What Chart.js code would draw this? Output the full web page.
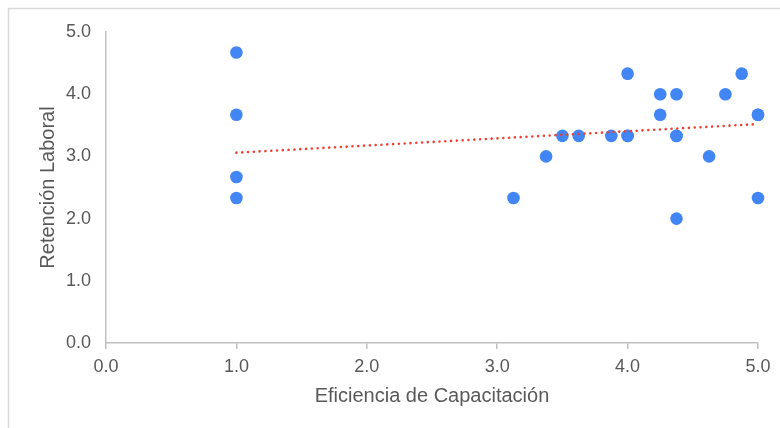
<!DOCTYPE html>
<html>
<head>
<meta charset="utf-8">
<script src="https://cdn.jsdelivr.net/npm/chart.js@4.4.1/dist/chart.umd.min.js"></script>
<style>
  html, body { margin: 0; padding: 0; background: #ffffff; }
  #wrap { width: 780px; height: 428px; position: relative; }
</style>
</head>
<body>
<div id="wrap"><canvas id="c" width="780" height="428"></canvas></div>
<script>
// Eficiencia de Capacitación (x) vs Retención Laboral (y)
const efficiency = [1.0, 1.0, 1.0, 1.0, 3.125, 3.375, 3.5, 3.625, 3.875, 4.0, 4.0, 4.0, 4.25, 4.25, 4.375, 4.375, 4.375, 4.375, 4.625, 4.75, 4.875, 5.0, 5.0, 5.0];
const retention  = [4.67, 3.67, 2.67, 2.33, 2.33, 3.0, 3.33, 3.33, 3.33, 3.33, 3.33, 4.33, 4.0, 3.67, 4.0, 3.33, 3.33, 2.0, 3.0, 4.0, 4.33, 3.67, 3.67, 2.33];

// Linear trend line end points
const trendX = [1.0, 5.0];
const trendY = [3.06, 3.52];

// Axis ticks
const xTicks = [0, 1, 2, 3, 4, 5];
const yTicks = [0, 1, 2, 3, 4, 5];

const points = efficiency.map((x, i) => ({ x: x, y: retention[i] }));
const trend = trendX.map((x, i) => ({ x: x, y: trendY[i] }));

const AXIS = '#bfbfbf';
const TEXT = '#595959';
const FONT = "'Liberation Sans', Arial, sans-serif";

// Thin frame around the chart
const framePlugin = {
  id: 'frame',
  beforeDraw(chart) {
    const ctx = chart.ctx;
    ctx.save();
    ctx.fillStyle = '#ffffff';
    ctx.fillRect(0, 0, chart.width, chart.height);
    ctx.strokeStyle = '#d9d9d9';
    ctx.lineWidth = 1.5;
    ctx.beginPath();
    ctx.moveTo(8.5, chart.height + 2);
    ctx.lineTo(8.5, 8.5);
    ctx.lineTo(chart.width + 2, 8.5);
    ctx.stroke();
    ctx.restore();
  }
};

new Chart(document.getElementById('c'), {
  type: 'scatter',
  data: {
    datasets: [
      {
        type: 'line',
        label: 'Tendencia',
        data: trend,
        borderColor: '#ee4035',
        borderWidth: 2.6,
        borderDash: [0.01, 5.8],
        borderCapStyle: 'round',
        pointRadius: 0,
        fill: false,
        tension: 0,
        clip: false,
        order: 0
      },
      {
        label: 'Retención Laboral',
        data: points,
        backgroundColor: '#4285f4',
        borderWidth: 0,
        pointRadius: 6.3,
        pointHoverRadius: 6.3,
        clip: false,
        order: 1
      }
    ]
  },
  plugins: [framePlugin],
  options: {
    responsive: false,
    animation: false,
    devicePixelRatio: 1,
    layout: { padding: { top: 32, right: 22, left: 36, bottom: 20 } },
    plugins: {
      legend: { display: false },
      tooltip: { enabled: false }
    },
    scales: {
      x: {
        type: 'linear',
        min: 0,
        max: 5,
        afterBuildTicks(scale) { scale.ticks = xTicks.map(v => ({ value: v })); },
        afterFit(scale) { scale.height = 65; },
        border: { display: true, color: AXIS, width: 1.5 },
        grid: { display: true, drawOnChartArea: false, drawTicks: true, tickLength: 6, color: AXIS, lineWidth: 1.5 },
        ticks: {
          color: TEXT,
          padding: 7,
          font: { family: FONT, size: 18 },
          callback: v => Number(v).toFixed(1)
        },
        title: {
          display: true,
          text: 'Eficiencia de Capacitación',
          color: TEXT,
          font: { family: FONT, size: 20 },
          padding: { top: 6, bottom: 0 }
        }
      },
      y: {
        type: 'linear',
        min: 0,
        max: 5,
        afterBuildTicks(scale) { scale.ticks = yTicks.map(v => ({ value: v })); },
        afterFit(scale) { scale.width = 70; },
        border: { display: true, color: AXIS, width: 1.5 },
        grid: { display: false, drawTicks: false },
        ticks: {
          color: TEXT,
          padding: 15,
          font: { family: FONT, size: 18 },
          callback: v => Number(v).toFixed(1)
        },
        title: {
          display: true,
          text: 'Retención Laboral',
          color: TEXT,
          font: { family: FONT, size: 20 },
          padding: { top: 0, bottom: 10 }
        }
      }
    }
  }
});
</script>
</body>
</html>
